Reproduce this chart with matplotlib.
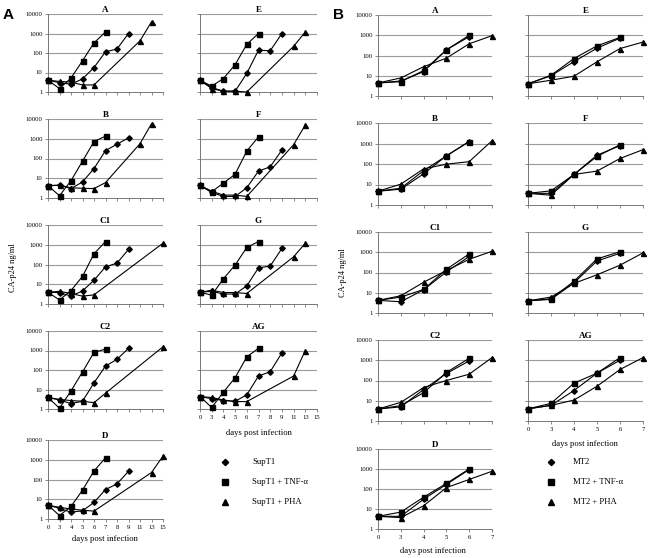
import matplotlib
matplotlib.use('Agg')
import matplotlib.pyplot as plt

plt.rcParams['font.family'] = ['Liberation Serif', 'DejaVu Serif']

W, H = 650, 558

# category axis labels (days post infection)
days_A = [0, 3, 4, 5, 6, 7, 8, 9, 11, 13, 15]
days_B = [0, 3, 4, 5, 6, 7]
y_ticks = [1, 10, 100, 1000, 10000]

# panel A: SupT1 cells, virus subtypes
plain_days_A = [0, 3, 4, 5, 6, 7, 8, 9]
tnf_days_A = [0, 3, 4, 5, 6, 7]
supt1 = {
    'A': [4, 3, 2.5, 4.7, 18, 115, 160, 1000],
    'E': [4, 1.7, 1.1, 1.1, 9, 140, 130, 1000],
    'B': [4.2, 4.4, 3, 6.5, 31, 250, 530, 1100],
    'F': [4.3, 1.9, 1.2, 1.2, 3.3, 23, 38, 270],
    'C1': [3.9, 3.8, 2.5, 4.6, 16, 76, 117, 580],
    'G': [3.9, 4.4, 3.2, 3.2, 8.3, 68, 83, 650],
    'C2': [3.9, 2.9, 1.9, 2.5, 22, 160, 350, 1300],
    'AG': [4.3, 3.4, 2.7, 2.5, 5.3, 49, 82, 760],
    'D': [5, 3.5, 2.2, 2.6, 6.9, 31, 60, 260],
}
supt1_tnf = {
    'A': [4, 1.5, 5.2, 40, 330, 1200],
    'E': [4, 2, 4.9, 25, 280, 1000],
    'B': [4.2, 1.3, 7.5, 73, 720, 1350],
    'F': [4.3, 2.1, 5.6, 16, 240, 1250],
    'C1': [3.9, 1.6, 4.8, 25, 350, 1450],
    'G': [3.9, 2.8, 19, 93, 730, 1450],
    'C2': [3.9, 1.1, 8.5, 79, 800, 1170],
    'AG': [4.3, 1.2, 7.3, 40, 470, 1300],
    'D': [5, 1.5, 4.3, 29, 270, 1260],
}
supt1_pha_days = {
    'A': [0, 3, 4, 5, 6, 11, 13],
    'E': [0, 3, 4, 5, 6, 11, 13],
    'B': [0, 3, 4, 5, 6, 7, 11, 13],
    'F': [0, 3, 4, 5, 6, 11, 13],
    'C1': [0, 3, 4, 5, 6, 15],
    'G': [0, 3, 4, 5, 6, 11, 13],
    'C2': [0, 3, 4, 5, 6, 7, 15],
    'AG': [0, 3, 4, 5, 6, 11, 13],
    'D': [0, 3, 4, 5, 6, 13, 15],
}
supt1_pha = {
    'A': [4, 3.5, 3.2, 2.3, 2.3, 420, 4000],
    'E': [4, 1.5, 1.1, 1.1, 1.0, 220, 1200],
    'B': [4.2, 4.5, 3.3, 3.1, 3, 6, 560, 5800],
    'F': [4.3, 2.2, 1.4, 1.4, 1.2, 500, 5000],
    'C1': [3.9, 4.4, 3.4, 2.5, 2.9, 1200],
    'G': [3.9, 5, 3.8, 3.8, 3.4, 245, 1200],
    'C2': [3.9, 3.1, 2.7, 2.5, 2.1, 6.5, 1550],
    'AG': [4.3, 3.9, 2.9, 2.4, 2.4, 49, 1000],
    'D': [5, 3.9, 3.2, 2.8, 2.5, 225, 1550],
}

# panel B: MT2 cells
plain_days_B = [0, 3, 4, 5, 6]
tnf_days_B = [0, 3, 4, 5, 6]
pha_days_B = [0, 3, 4, 5, 6, 7]
mt2 = {
    'A': [4.4, 5.5, 16, 190, 850],
    'E': [4, 10, 50, 230, 720],
    'B': [4.7, 5.9, 33, 250, 1250],
    'F': [3.7, 3.7, 31, 270, 780],
    'C1': [4.2, 3.6, 14, 107, 620],
    'G': [4, 4.7, 31, 370, 890],
    'C2': [3.9, 5, 36, 220, 930],
    'AG': [4, 5.9, 32, 230, 1000],
    'D': [4.3, 4.3, 31, 170, 930],
}
mt2_tnf = {
    'A': [4.4, 5.1, 18, 190, 1000],
    'E': [4, 10.5, 71, 300, 780],
    'B': [4.7, 6.6, 47, 250, 1250],
    'F': [3.7, 4.9, 31, 235, 870],
    'C1': [4.2, 6.1, 14.5, 145, 830],
    'G': [4, 5, 37, 470, 1070],
    'C2': [3.9, 5.7, 25, 250, 1250],
    'AG': [4, 7.4, 74, 230, 1350],
    'D': [4.3, 7, 39, 190, 1000],
}
mt2_pha = {
    'A': [4.4, 7.8, 28, 74, 380, 950],
    'E': [4, 6, 9.5, 49, 220, 460],
    'B': [4.7, 10.4, 58, 98, 130, 1370],
    'F': [3.7, 3, 31, 45, 186, 500],
    'C1': [4.2, 7.1, 33, 125, 450, 1120],
    'G': [4, 6.1, 29, 77, 230, 930],
    'C2': [3.9, 8.3, 45, 100, 205, 1350],
    'AG': [4, 5.9, 10.8, 52, 350, 1350],
    'D': [4.3, 3.7, 14.5, 117, 300, 770],
}

# subplot boxes in pixels: name -> (left, top, right, bottom)
boxes_A = {
    'A': (48, 14, 163, 92), 'E': (200, 14, 317, 92),
    'B': (48, 119, 163, 198), 'F': (200, 119, 317, 198),
    'C1': (48, 225, 163, 304), 'G': (200, 225, 317, 304),
    'C2': (48, 331, 163, 409), 'AG': (200, 331, 317, 409),
    'D': (48, 440, 163, 519),
}
boxes_B = {
    'A': (378, 15, 492, 96), 'E': (528, 15, 643, 96),
    'B': (378, 123, 492, 205), 'F': (528, 123, 643, 205),
    'C1': (378, 232, 492, 313), 'G': (528, 232, 643, 313),
    'C2': (378, 340, 492, 421), 'AG': (528, 340, 643, 421),
    'D': (378, 449, 492, 529),
}
left_col = ['A', 'B', 'C1', 'C2', 'D']
bottom_row = ['AG', 'D']

fig = plt.figure(figsize=(W / 100, H / 100), dpi=100)


def rect(box):
    l, t, r, b = box
    return [l / W, 1 - b / H, (r - l) / W, (b - t) / H]


def draw_series(ax, days, cats, vals, marker, ms):
    xs = [cats.index(d) for d in days]
    ax.plot(xs, vals, color='black', lw=0.8, marker=marker, ms=ms,
            mfc='black', mec='black', clip_on=False, zorder=3)


def setup_axes(ax, name, cats):
    ax.set_yscale('log')
    ax.set_ylim(1, 10000)
    ax.set_xlim(0, len(cats) - 1)
    ax.set_xticks(range(len(cats)))
    ax.set_yticks(y_ticks)
    ax.minorticks_off()
    for y in y_ticks[1:]:
        ax.axhline(y, color='#9a9a9a', lw=0.8, zorder=1)
    for s in ['top', 'right']:
        ax.spines[s].set_visible(False)
    for s in ['left', 'bottom']:
        ax.spines[s].set_color('#777777')
        ax.spines[s].set_linewidth(0.7)
    ax.tick_params(axis='both', length=2, width=0.6, color='#777777',
                   labelsize=4.8, pad=2)
    if name in left_col:
        ax.set_yticklabels([str(t) for t in y_ticks])
    else:
        ax.set_yticklabels([])
    if name in bottom_row:
        ax.set_xticklabels([str(d) for d in cats])
    else:
        ax.set_xticklabels([])
    ax.set_title(name, fontsize=6.5, fontweight='bold', pad=1.5)
    ax.patch.set_alpha(0)


for name, box in boxes_A.items():
    ax = fig.add_axes(rect(box))
    setup_axes(ax, name, days_A)
    draw_series(ax, supt1_pha_days[name], days_A, supt1_pha[name], '^', 3.6)
    draw_series(ax, plain_days_A, days_A, supt1[name], 'D', 2.8)
    draw_series(ax, tnf_days_A, days_A, supt1_tnf[name], 's', 3.6)

for name, box in boxes_B.items():
    ax = fig.add_axes(rect(box))
    setup_axes(ax, name, days_B)
    draw_series(ax, pha_days_B, days_B, mt2_pha[name], '^', 3.6)
    draw_series(ax, plain_days_B, days_B, mt2[name], 'D', 2.8)
    draw_series(ax, tnf_days_B, days_B, mt2_tnf[name], 's', 3.6)

# overlay in pixel coordinates for labels and legends
ov = fig.add_axes([0, 0, 1, 1])
ov.set_xlim(0, W)
ov.set_ylim(H, 0)
ov.axis('off')

ov.text(3, 15, 'A', fontsize=11, fontweight='bold', family='Liberation Sans', va='center')
ov.text(333, 15, 'B', fontsize=11, fontweight='bold', family='Liberation Sans', va='center')

ov.text(13, 268, 'CA-p24 ng/ml', fontsize=6, rotation=90, ha='center', va='center')
ov.text(343, 273, 'CA-p24 ng/ml', fontsize=6, rotation=90, ha='center', va='center')

ov.text(105, 539, 'days post infection', fontsize=6.2, ha='center', va='center')
ov.text(259, 433, 'days post infection', fontsize=6.2, ha='center', va='center')
ov.text(433, 551, 'days post infection', fontsize=6.2, ha='center', va='center')
ov.text(585, 444, 'days post infection', fontsize=6.2, ha='center', va='center')

legend_A = ['SupT1', 'SupT1 + TNF-α', 'SupT1 + PHA']
legend_B = ['MT2', 'MT2 + TNF-α', 'MT2 + PHA']
legend_markers = [('D', 3.2), ('s', 4.2), ('^', 4.2)]
for i, (m, ms) in enumerate(legend_markers):
    y = 462 + i * 20
    ov.plot([225], [y], marker=m, ms=ms, color='black', ls='none')
    ov.text(252, y, legend_A[i], fontsize=6.2, va='center')
    ov.plot([551], [y], marker=m, ms=ms, color='black', ls='none')
    ov.text(573, y, legend_B[i], fontsize=6.2, va='center')

fig.savefig('out.png', dpi=100)
